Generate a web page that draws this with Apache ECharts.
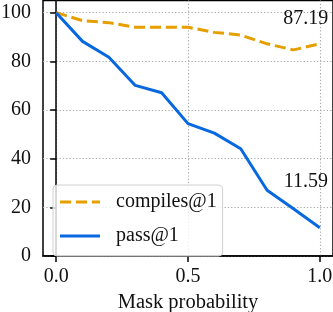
<!DOCTYPE html>
<html><head><meta charset="utf-8">
<script src="https://cdn.jsdelivr.net/npm/echarts@6/dist/echarts.min.js"></script>
<style>html,body{margin:0;padding:0;background:#fff}#c{width:333px;height:312px}</style>
</head><body><div id="c"></div>
<script>
const maskProb = [0.0, 0.1, 0.2, 0.3, 0.4, 0.5, 0.6, 0.7, 0.8, 0.9, 1.0];
const compiles = [100, 96.7, 95.9, 94.0, 94.0, 94.0, 91.9, 90.8, 87.2, 84.7, 87.19];
const pass = [100, 88.2, 81.7, 70.1, 67.1, 54.4, 50.5, 44.1, 27.0, 19.4, 11.59];
const xTicks = [0.0, 0.5, 1.0];
const yTicks = [0, 20, 40, 60, 80, 100];

const FONT = '"Liberation Serif", serif';
const orange = '#E69F00', blue = '#0868E0';
const pts = a => maskProb.map((x, i) => [x, a[i]]);
const lastLabel = (arr, off) => ({
  symbol: 'circle', symbolSize: 1, itemStyle: {color: 'transparent'},
  label: {show: true, position: 'inside', offset: off, color: '#111', fontFamily: FONT, fontSize: 20,
    formatter: p => p.value[1].toFixed(2)},
  data: [{coord: [maskProb[maskProb.length - 1], arr[arr.length - 1]], value: [1, arr[arr.length - 1]]}]
});
const dashIcon = 'path://M0,0h11.1v3h-11.1z M15.9,0h11.1v3h-11.1z M31.8,0h8.2v3h-8.2z';
const solidIcon = 'path://M0,0h40v3h-40z';
const chart = echarts.init(document.getElementById('c'), null, {renderer: 'canvas'});
chart.setOption({
  animation: false,
  textStyle: {fontFamily: FONT},
  grid: {left: 43, right: 0, top: 0.5, bottom: 56, containLabel: false, outerBoundsMode: 'none',
    show: true, borderColor: '#000', borderWidth: 1.5, backgroundColor: 'transparent'},
  xAxis: {
    type: 'value', min: -0.05, max: 1.05,
    name: 'Mask probability', nameLocation: 'middle', nameGap: 34,
    nameTextStyle: {color: '#111', fontSize: 20.5, fontFamily: FONT},
    axisLine: {lineStyle: {color: '#000', width: 1.5}},
    axisTick: {customValues: xTicks, length: 6, lineStyle: {color: '#000', width: 1.5}},
    axisLabel: {customValues: xTicks, color: '#111', fontSize: 20, fontFamily: FONT, margin: 11, formatter: v => v.toFixed(1)},
    splitLine: {show: true, lineStyle: {color: '#aaaaaa', width: 1.1, type: [1.3, 2]}}
  },
  yAxis: {
    type: 'value', min: 0, max: 105,
    axisLine: {show: true, lineStyle: {color: '#000', width: 1.5}},
    axisTick: {show: true, customValues: yTicks, length: 6, lineStyle: {color: '#000', width: 1.5}},
    axisLabel: {customValues: yTicks, color: '#111', fontSize: 20, fontFamily: FONT, margin: 12},
    splitLine: {show: true, lineStyle: {color: '#aaaaaa', width: 1.1, type: [1.3, 2]}}
  },
  legend: {
    orient: 'vertical', left: 53, top: 185,
    padding: [7, 6, 10, 7], itemGap: 14, itemWidth: 40, itemHeight: 14,
    borderColor: '#d0d0d0', borderWidth: 1, borderRadius: 4, backgroundColor: 'rgba(255,255,255,0.8)',
    textStyle: {color: '#111', fontSize: 20, fontFamily: FONT, padding: [0, 0, 0, 11]},
    data: [{name: 'compiles@1', icon: dashIcon}, {name: 'pass@1', icon: solidIcon}]
  },
  series: [
    {name: 'compiles@1', type: 'line', data: pts(compiles), showSymbol: false, symbol: 'none',
     lineStyle: {color: orange, width: 3, type: [11.1, 4.8]}, itemStyle: {color: orange},
     markPoint: lastLabel(compiles, [-14, -25])},
    {name: 'pass@1', type: 'line', data: pts(pass), showSymbol: false, symbol: 'none',
     lineStyle: {color: blue, width: 3}, itemStyle: {color: blue},
     markPoint: lastLabel(pass, [-14, -46.5])}
  ]
});
</script></body></html>
